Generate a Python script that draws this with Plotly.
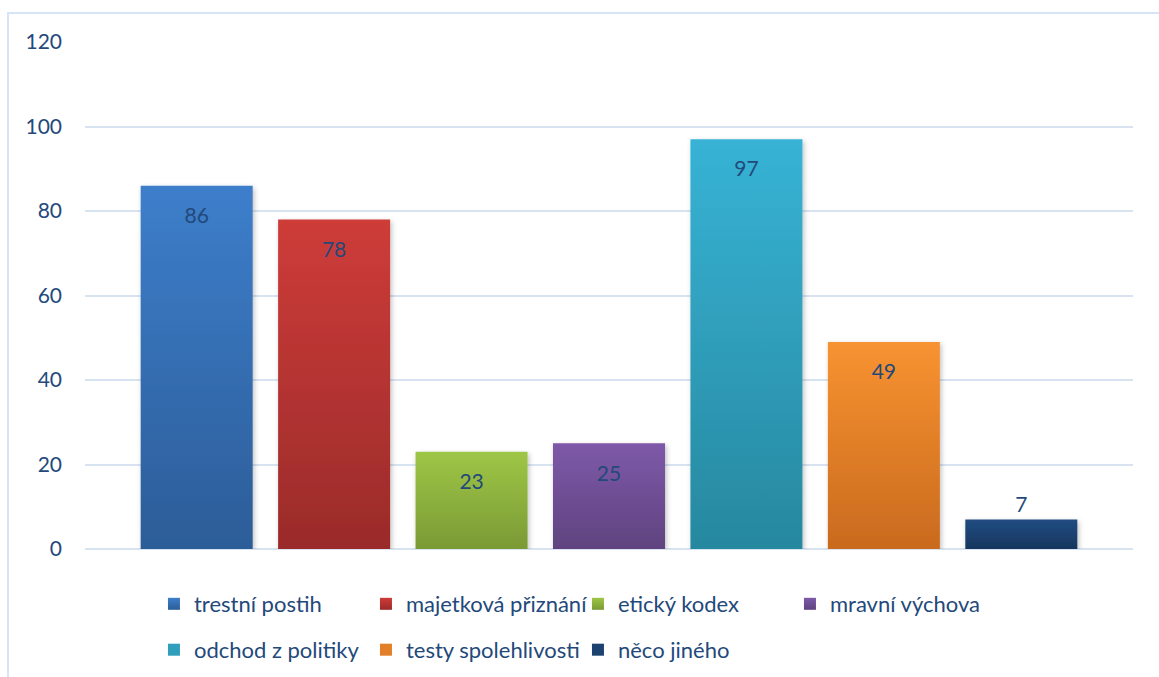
import json
import plotly.graph_objects as go

# data
names = ["trestní postih", "majetková přiznání", "etický kodex", "mravní výchova",
         "odchod z politiky", "testy spolehlivosti", "něco jiného"]
values = [86, 78, 23, 25, 97, 49, 7]
y_ticks = [0, 20, 40, 60, 80, 100, 120]

# styles: (top colour, bottom colour) of each bar's gradient
grad = [("#3d7ecb", "#2c5d98"), ("#ce3c39", "#9a2b2a"), ("#9ec646", "#7a9a35"),
        ("#7e59a9", "#5f437f"), ("#37b3d5", "#27889f"), ("#f89331", "#c96a1e"),
        ("#214c82", "#17375e")]
mid = ["#3570b5", "#b83532", "#8cb13e", "#6f4e95", "#2f9fbc", "#e27f28", "#1c426f"]

txt_col = "#23497a"
font_fam = "Lato, 'Open Sans', sans-serif"

fig = go.Figure()
for i, (n, v) in enumerate(zip(names, values)):
    inside = v > 15
    fig.add_trace(go.Bar(
        x=[""], y=[v], name=n,
        legend="legend" if i < 4 else "legend2",
        marker=dict(color=mid[i], line=dict(width=0)),
        # small blank first line pushes the inside label a bit below the bar top
        texttemplate="<span style='font-size:7px'>\u00a0</span><br>%{y}" if inside else "%{y}",
        textposition="inside" if inside else "outside",
        insidetextanchor="end",
        textfont=dict(size=21, color=txt_col, family=font_fam),
        outsidetextfont=dict(size=21, color=txt_col, family=font_fam),
        hoverinfo="none",
        cliponaxis=False,
    ))

leg = dict(orientation="h", xanchor="left", yanchor="middle", x=0.0658,
           entrywidth=167, entrywidthmode="pixels", itemwidth=30,
           font=dict(size=22, color=txt_col, family=font_fam), traceorder="normal")

fig.update_layout(
    width=1159, height=677,
    margin=dict(l=85, r=26, t=42, b=128, autoexpand=False),
    paper_bgcolor="white", plot_bgcolor="white",
    barmode="group", bargap=0.082, bargroupgap=0.185,
    font=dict(family=font_fam, size=21, color=txt_col),
    xaxis=dict(showticklabels=False, showgrid=False, zeroline=False, showline=False),
    yaxis=dict(range=[0, 120], tickvals=y_ticks, showgrid=True, gridcolor="#d8e3f1",
               gridwidth=1.5, zeroline=True, zerolinecolor="#d8e3f1", zerolinewidth=2,
               showline=False, ticks="", ticklabelstandoff=22,
               tickfont=dict(size=21, color=txt_col)),
    legend=dict(leg, y=-0.1085),
    legend2=dict(leg, y=-0.199),
    shapes=[dict(type="rect", xref="paper", yref="paper", x0=-0.0735, x1=1.1,
                 y0=-0.6, y1=1.057, line=dict(color="#d6e4f5", width=2), layer="below")],
)

post = """
document.body.style.margin = '0';
var gd = document.getElementById('{plot_id}');
var ns = 'http://www.w3.org/2000/svg';
var svg = gd.querySelector('svg.main-svg');
var defs = svg.querySelector('defs');
if (!defs) { defs = document.createElementNS(ns, 'defs'); svg.insertBefore(defs, svg.firstChild); }
var grads = GRADS;
grads.forEach(function(g, i) {
  var lg = document.createElementNS(ns, 'linearGradient');
  lg.setAttribute('id', 'bargrad' + i);
  lg.setAttribute('x1', '0'); lg.setAttribute('y1', '0');
  lg.setAttribute('x2', '0'); lg.setAttribute('y2', '1');
  [[0, g[0]], [1, g[1]]].forEach(function(s) {
    var st = document.createElementNS(ns, 'stop');
    st.setAttribute('offset', s[0]); st.setAttribute('stop-color', s[1]);
    lg.appendChild(st);
  });
  defs.appendChild(lg);
});
var f = document.createElementNS(ns, 'filter');
f.setAttribute('id', 'barshadow');
f.setAttribute('x', '-10%'); f.setAttribute('y', '-10%');
f.setAttribute('width', '125%'); f.setAttribute('height', '125%');
var ds = document.createElementNS(ns, 'feDropShadow');
ds.setAttribute('dx', '1.5'); ds.setAttribute('dy', '2');
ds.setAttribute('stdDeviation', '2.5');
ds.setAttribute('flood-color', '#000'); ds.setAttribute('flood-opacity', '0.25');
f.appendChild(ds); defs.appendChild(f);
gd.querySelectorAll('.barlayer .trace').forEach(function(tr, i) {
  tr.querySelectorAll('.point path').forEach(function(p) {
    p.style.fill = 'url(#bargrad' + i + ')';
    p.setAttribute('filter', 'url(#barshadow)');
  });
});
var names = NAMES;
gd.querySelectorAll('.legend .traces').forEach(function(tr) {
  var t = tr.querySelector('.legendtext');
  var i = t ? names.indexOf(t.textContent) : -1;
  if (i < 0) return;
  tr.querySelectorAll('.legendpoints path').forEach(function(p) {
    p.style.fill = 'url(#bargrad' + i + ')';
  });
});
""".replace("GRADS", json.dumps(grad)).replace("NAMES", json.dumps(names))

fig.write_html("out.html", post_script=post, config={"displayModeBar": False})
